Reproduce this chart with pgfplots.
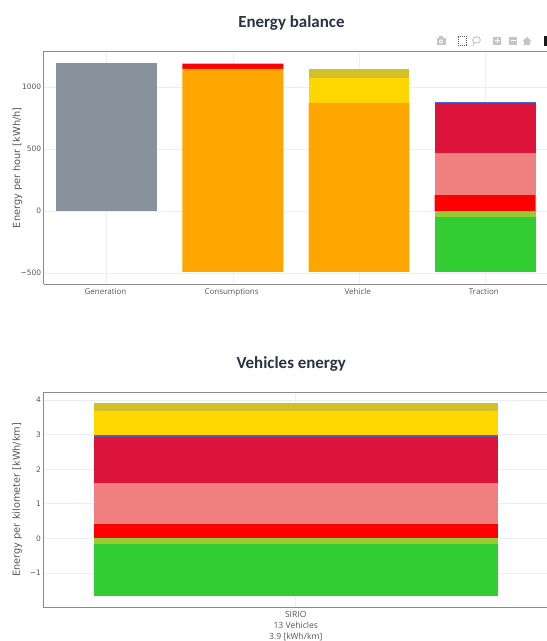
\documentclass[border=0pt]{standalone}
\usepackage{fontspec}
\setmainfont{Open Sans}
\newfontfamily\deja{DejaVu Sans}
\newfontfamily\titlefont{Carlito}
\usepackage{pgfplots}
\pgfplotsset{compat=1.18}
\definecolor{cgrey}{HTML}{87929C}
\definecolor{corange}{HTML}{FFA500}
\definecolor{cred}{HTML}{FF0000}
\definecolor{cgold}{HTML}{FFD700}
\definecolor{cdark}{HTML}{D2C026}
\definecolor{ccrim}{HTML}{DC143C}
\definecolor{ccoral}{HTML}{F08080}
\definecolor{clime}{HTML}{32CD32}
\definecolor{cygreen}{HTML}{96CB32}
\definecolor{cblue}{HTML}{4169E1}
\definecolor{cgrid}{HTML}{EEEEEE}
\definecolor{cline}{HTML}{8A8A8A}
\definecolor{ctxt}{HTML}{555555}
\definecolor{cicon}{HTML}{C4C4C4}
\definecolor{ctitle}{HTML}{2A3344}
\pgfplotsset{common/.style={
  scale only axis, width=504.5bp,
  ybar stacked, stack negative=on previous,
  axis line style={draw=cline,line width=1pt},
  axis x line*=bottom, axis y line*=left,
  grid=major, grid style={draw=cgrid,line width=0.6pt},
  tick style={draw=none},
  xtick=data,
  clip=true,
  ticklabel style={text=ctxt},
  yticklabel style={font=\deja\fontsize{7.5}{9}\selectfont,xshift=1bp},
  every axis title/.append style={font=\titlefont\bfseries\fontsize{17}{20}\selectfont,text=ctitle,anchor=center},
  ylabel style={font=\deja\fontsize{9.8}{11}\selectfont,text=ctxt},
}}
\begin{document}
\begin{tikzpicture}[x=1bp,y=1bp]
% ---- Energy balance
\begin{axis}[common,
  at={(43.7bp,356.7bp)},anchor=south west,height=233bp,
  bar width=100.9bp,
  xmin=-0.5,xmax=3.5,ymin=-590,ymax=1289,
  ytick={-500,0,500,1000},yticklabels={−500,0,500,1000},
  xticklabels={Generation,Consumptions,Vehicle,Traction},
  xticklabel style={font=\fontsize{8}{11}\selectfont,text height=6bp,text depth=2bp,yshift=-1bp,xshift=-1.3bp},
  title={Energy balance},
  title style={at={(rel axis cs:0.491,1.097)}},
  ylabel={Energy per hour [kWh/h]},
  ylabel style={at={(rel axis cs:-0.052,0.5)},anchor=center},
  ]
\addplot[draw=none,fill=none] coordinates {(0,0)(1,-490)(2,-490)(3,-490)};
\addplot[draw=none,fill=cgrey] coordinates {(0,1193)(1,0)(2,0)(3,0)};
\addplot[draw=none,fill=corange] coordinates {(0,0)(1,1637)(2,1363)(3,0)};
\addplot[draw=none,fill=clime] coordinates {(0,0)(1,0)(2,0)(3,444)};
\addplot[draw=none,fill=cygreen] coordinates {(0,0)(1,0)(2,0)(3,46)};
\addplot[draw=none,fill=cred] coordinates {(0,0)(1,43)(2,0)(3,129)};
\addplot[draw=none,fill=cgold] coordinates {(0,0)(1,0)(2,202)(3,0)};
\addplot[draw=none,fill=cdark] coordinates {(0,0)(1,0)(2,70)(3,0)};
\addplot[draw=none,fill=ccoral] coordinates {(0,0)(1,0)(2,0)(3,339)};
\addplot[draw=none,fill=ccrim] coordinates {(0,0)(1,0)(2,0)(3,400)};
\addplot[draw=none,fill=cblue] coordinates {(0,0)(1,0)(2,0)(3,13)};
\end{axis}
\draw[cline,line width=1pt] (43.7bp,589.7bp) -- (548.2bp,589.7bp);
% ---- Vehicles energy
\begin{axis}[common,
  at={(43.5bp,34bp)},anchor=south west,height=214.7bp,
  bar width=403.7bp,
  xmin=-0.5,xmax=0.5,ymin=-1.99,ymax=4.23,
  ytick={-1,0,1,2,3,4},yticklabels={−1,0,1,2,3,4},
  xticklabels={{SIRIO\\13 Vehicles\\3.9 [kWh/km]}},
  xticklabel style={font=\fontsize{8.6}{11}\selectfont,align=center,yshift=-1bp},
  title={Vehicles energy},
  title style={at={(rel axis cs:0.491,1.104)}},
  ylabel={Energy per kilometer [kWh/km]},
  ylabel style={at={(rel axis cs:-0.052,0.5)},anchor=center},
  ]
\addplot[draw=none,fill=none] coordinates {(0,-1.68)};
\addplot[draw=none,fill=clime] coordinates {(0,1.515)};
\addplot[draw=none,fill=cygreen] coordinates {(0,0.165)};
\addplot[draw=none,fill=cred] coordinates {(0,0.415)};
\addplot[draw=none,fill=ccoral] coordinates {(0,1.175)};
\addplot[draw=none,fill=ccrim] coordinates {(0,1.345)};
\addplot[draw=none,fill=cblue!70!ccrim] coordinates {(0,0.055)};
\addplot[draw=none,fill=cgold] coordinates {(0,0.69)};
\addplot[draw=none,fill=cdark] coordinates {(0,0.23)};
\end{axis}
\draw[cline,line width=1pt] (43.5bp,248.7bp) -- (548.2bp,248.7bp);
% ---- modebar
\begin{scope}[shift={(0bp,600bp)}]
 \fill[cicon] (436.5,-4) rectangle (445.5,3); \fill[cicon] (439,3) rectangle (443,4.5);
 \fill[white] (441,-0.5) circle (2); \fill[cicon] (441,-0.5) circle (1.2);
 \draw[black!65,densely dotted,line width=0.9pt] (458,-4.5) rectangle (466.5,4.5);
 \draw[cicon,line width=0.9pt] (476.5,1) ellipse (4 and 3.2); \draw[cicon,line width=0.8pt] (474,-2) -- (473,-5);
 \fill[cicon] (493,-4) rectangle (501,4); \fill[white] (496.5,-2.5) rectangle (497.5,2.5); \fill[white] (494.5,-0.5) rectangle (499.5,0.5);
 \fill[cicon] (509,-4) rectangle (517,4); \fill[white] (510.5,-0.5) rectangle (515.5,0.5);
 \fill[cicon] (522.5,0) -- (527,4) -- (531.5,0) -- (530,0) -- (530,-4) -- (524,-4) -- (524,0) -- cycle;
 \fill[black!90] (543.5,-5) rectangle (549,5);
\end{scope}
\pgfresetboundingbox
\path[use as bounding box] (0,0) rectangle (547bp,641bp);
\end{tikzpicture}
\end{document}
